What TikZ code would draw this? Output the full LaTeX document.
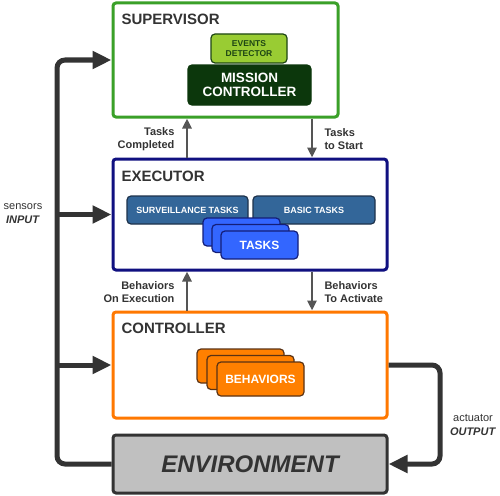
\documentclass[tikz,border=0pt]{standalone}
\usepackage{fontspec}
\setmainfont{Liberation Sans}
\usetikzlibrary{arrows.meta}

\definecolor{txtgray}{RGB}{51,51,51}
\definecolor{busgray}{RGB}{51,51,51}
\definecolor{flowgray}{RGB}{85,85,85}
\definecolor{supgreen}{RGB}{58,160,40}
\definecolor{evfill}{RGB}{153,204,51}
\definecolor{evtext}{RGB}{30,70,20}
\definecolor{mcfill}{RGB}{12,55,12}
\definecolor{exeblue}{RGB}{16,16,128}
\definecolor{stfill}{RGB}{51,102,153}
\definecolor{stline}{RGB}{30,50,75}
\definecolor{tasksfill}{RGB}{51,102,255}
\definecolor{tasksline}{RGB}{20,30,120}
\definecolor{ctrlorange}{RGB}{255,120,0}
\definecolor{behfill}{RGB}{255,128,0}
\definecolor{behline}{RGB}{90,50,20}
\definecolor{envfill}{RGB}{192,192,192}

\begin{document}
\begin{tikzpicture}[x=1pt,y=-1pt,
    layer/.style={rectangle, draw, line width=3pt, rounded corners=3pt, fill=white},
    title/.style={anchor=west, text=txtgray, font=\fontsize{15}{15}\selectfont\bfseries},
    part/.style={rectangle, draw, line width=1.2pt, rounded corners=4pt, inner sep=0pt,
                 text=white, align=center, font=\bfseries},
    bus/.style={draw=busgray, line width=5pt, rounded corners=8pt, -{Triangle[length=19pt,width=17pt]}},
    flow/.style={draw=flowgray, line width=2.5pt, -{Triangle[length=10pt,width=9pt]}},
    note/.style={text=txtgray, font=\fontsize{11}{13}\selectfont\bfseries}]
    \useasboundingbox (0,0) rectangle (500,495);

    % Nodes
    \node (sup) [layer, draw=supgreen, minimum width=225pt, minimum height=114pt] at (225.5,60) {};
    \node (exe) [layer, draw=exeblue, minimum width=274pt, minimum height=111pt] at (250,214.5) {};
    \node (ctrl) [layer, draw=ctrlorange, minimum width=274pt, minimum height=106pt] at (250,365) {};
    \node (env) [rectangle, draw=busgray, fill=envfill, line width=3pt, rounded corners=3pt,
        minimum width=274pt, minimum height=58pt, text=txtgray,
        font=\fontsize{24}{24}\selectfont\bfseries\itshape] at (250,464) {ENVIRONMENT};

    \node (suptitle) [title] at (118,19) {SUPERVISOR};
    \node (exetitle) [title] at (118,176) {EXECUTOR};
    \node (ctrltitle) [title] at (118,328) {CONTROLLER};

    \node (events) [part, draw=evtext, fill=evfill, text=evtext, minimum width=76pt, minimum height=29pt,
        font=\fontsize{8.5}{10}\selectfont\bfseries] at (249,48.5) {EVENTS\\DETECTOR};
    \node (mission) [part, draw=mcfill, fill=mcfill, minimum width=123pt, minimum height=40pt,
        font=\fontsize{13.5}{14}\selectfont\bfseries] at (249.5,85) {MISSION\\CONTROLLER};

    \node (surv) [part, draw=stline, fill=stfill, minimum width=121pt, minimum height=28pt,
        font=\fontsize{9}{9}\selectfont\bfseries] at (187.5,210) {SURVEILLANCE TASKS};
    \node (basic) [part, draw=stline, fill=stfill, minimum width=122pt, minimum height=28pt,
        font=\fontsize{9}{9}\selectfont\bfseries] at (314,210) {BASIC TASKS};
    \node (tasksc) [part, draw=tasksline, fill=tasksfill, minimum width=77pt, minimum height=28pt] at (241.5,232) {};
    \node (tasksb) [part, draw=tasksline, fill=tasksfill, minimum width=77pt, minimum height=28pt] at (250.5,238.5) {};
    \node (tasks) [part, draw=tasksline, fill=tasksfill, minimum width=77pt, minimum height=28pt,
        font=\fontsize{12}{12}\selectfont\bfseries] at (259.5,245) {TASKS};

    \node (behc) [part, draw=behline, fill=behfill, minimum width=87pt, minimum height=34pt] at (240.5,366) {};
    \node (behb) [part, draw=behline, fill=behfill, minimum width=87pt, minimum height=34pt] at (250.5,372.5) {};
    \node (beh) [part, draw=behline, fill=behfill, minimum width=87pt, minimum height=34pt,
        font=\fontsize{12}{12}\selectfont\bfseries] at (260.5,379) {BEHAVIORS};

    \node (done) [note, align=right, anchor=east] at (178,139) {Tasks\\Completed};
    \node (start) [note, align=left, anchor=west] at (321,139) {Tasks\\to Start};
    \node (running) [note, align=right, anchor=east] at (178,292) {Behaviors\\On Execution};
    \node (activate) [note, align=left, anchor=west] at (321,292) {Behaviors\\To Activate};

    \node (input) [text=txtgray, align=center, font=\fontsize{11}{14}\selectfont] at (23,214)
        {sensors\\\textbf{\textit{INPUT}}};
    \node (output) [text=txtgray, align=center, font=\fontsize{11}{14}\selectfont] at (473,425)
        {actuator\\\textbf{\textit{OUTPUT}}};

    \coordinate (lbus) at (57,0);
    \coordinate (rbus) at (440,0);
    \coordinate (lcol) at (187,0);
    \coordinate (rcol) at (312,0);

    % Arrows
    \draw[bus] (env.west) -- (env.west -| lbus) -- (sup.west -| lbus) -- (sup.west);
    \draw[bus] (exe.west -| lbus) -- (exe.west);
    \draw[bus] (ctrl.west -| lbus) -- (ctrl.west);
    \draw[bus] (ctrl.east) -- (ctrl.east -| rbus) -- (env.east -| rbus) -- (env.east);

    \draw[flow] (exe.north -| lcol) -- (sup.south -| lcol);
    \draw[flow] (sup.south -| rcol) -- (exe.north -| rcol);
    \draw[flow] (ctrl.north -| lcol) -- (exe.south -| lcol);
    \draw[flow] (exe.south -| rcol) -- (ctrl.north -| rcol);
\end{tikzpicture}
\end{document}
